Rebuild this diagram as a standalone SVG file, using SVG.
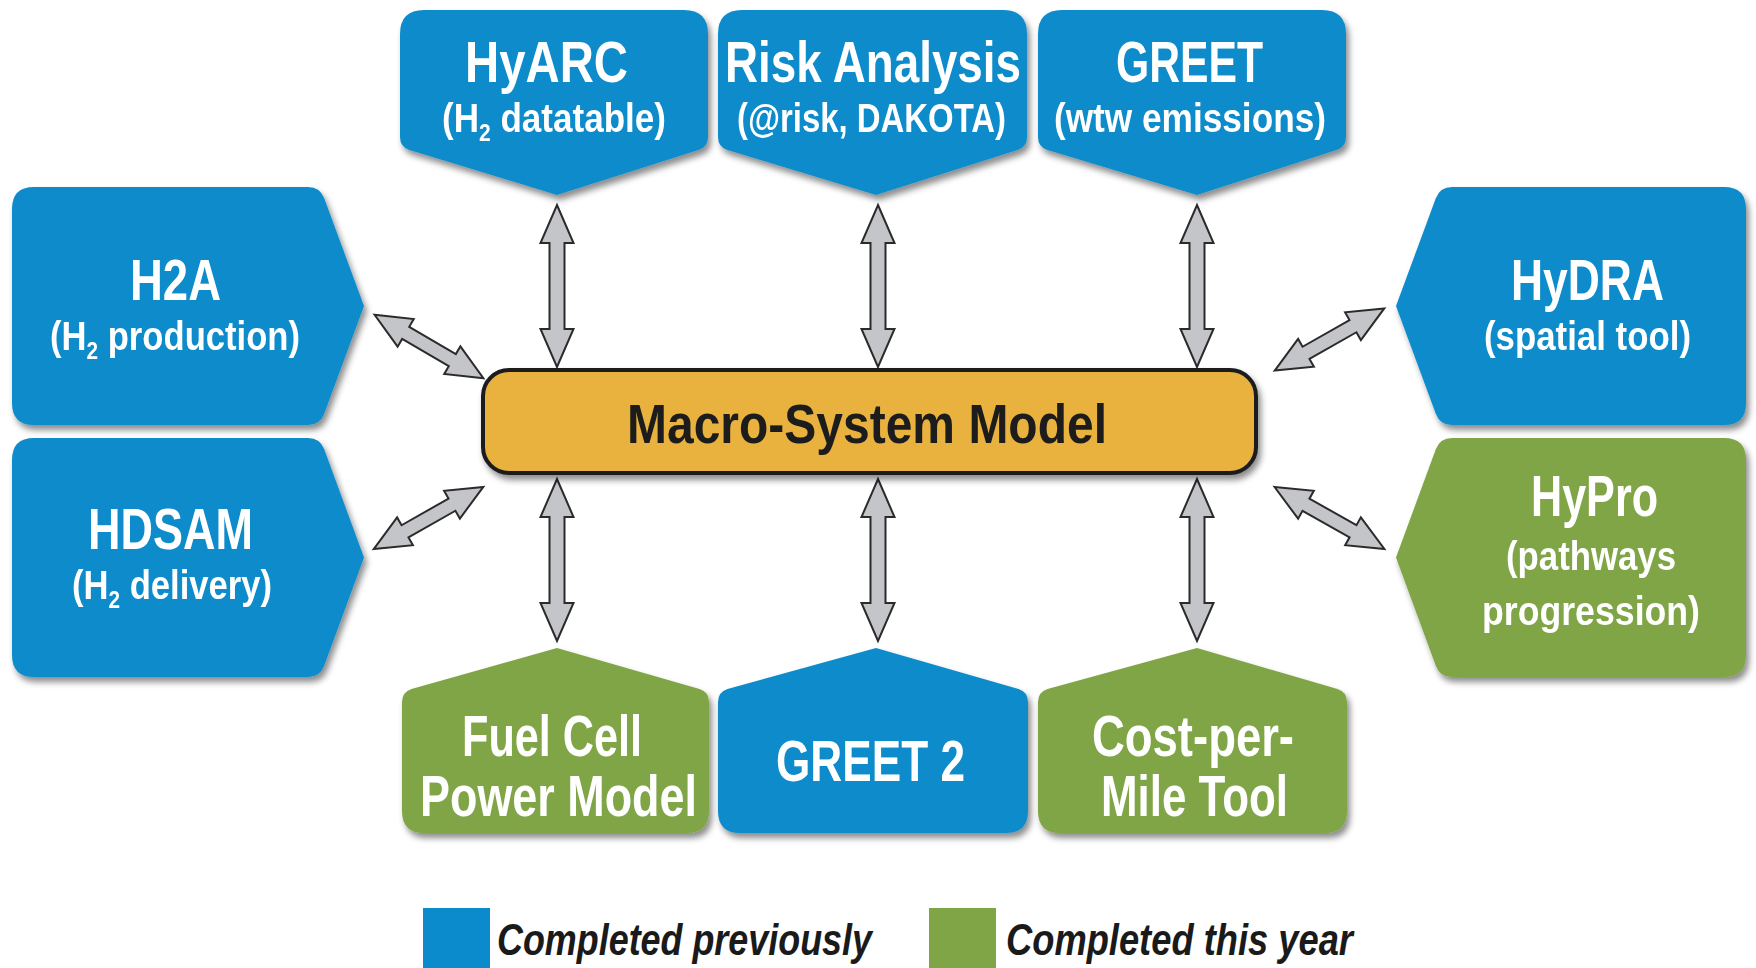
<svg xmlns="http://www.w3.org/2000/svg" xmlns:xlink="http://www.w3.org/1999/xlink" width="1756" height="968" viewBox="0 0 1756 968">
<style>
.blue{fill:#0b8bcb}
.green{fill:#80a546}
.node{filter:url(#sh)}
.t{font-family:"Liberation Sans",Arial,sans-serif;font-weight:700;fill:#ffffff}
.ti{font-size:57px}
.su{font-size:40px}
.sub{font-size:24px}
.macro{fill:#e9b13d;stroke:#1c1c1c;stroke-width:4}
.mt{font-family:"Liberation Sans",Arial,sans-serif;font-weight:700;font-size:56px;fill:#1c1c1c}
.arrow{fill:#c4c5c9;stroke:#2b2b2b;stroke-width:2;stroke-linejoin:miter}
.leg{font-family:"Liberation Sans",Arial,sans-serif;font-weight:700;font-style:italic;font-size:45px;fill:#1a1a1a}
</style>
<defs>
<filter id="sh" x="-10%" y="-10%" width="125%" height="130%">
<feDropShadow dx="3" dy="5" stdDeviation="3" flood-color="#000" flood-opacity="0.45"/>
</filter>
<path id="av" class="arrow" d="M0,-81 L16.5,-43 L7.5,-43 L7.5,43 L16.5,43 L0,81 L-16.5,43 L-7.5,43 L-7.5,-43 L-16.5,-43 Z"/>
<path id="ad" class="arrow" d="M-63,0 L-27,-16 L-27,-7 L27,-7 L27,-16 L63,0 L27,16 L27,7 L-27,7 L-27,16 Z"/>
</defs>
<rect width="1756" height="968" fill="#ffffff"/>

<g id="connectors">
<use xlink:href="#av" x="557" y="286"/>
<use xlink:href="#av" x="878" y="286"/>
<use xlink:href="#av" x="1197" y="286"/>
<use xlink:href="#av" x="557" y="560"/>
<use xlink:href="#av" x="878" y="560"/>
<use xlink:href="#av" x="1197" y="560"/>
<use xlink:href="#ad" transform="translate(429,346.5) rotate(30.3)"/>
<use xlink:href="#ad" transform="translate(428.5,518) rotate(-29.6)"/>
<use xlink:href="#ad" transform="translate(1329.5,339.5) rotate(-29.6)"/>
<use xlink:href="#ad" transform="translate(1329.5,518) rotate(29.4)"/>
</g>

<g id="macro">
<rect class="macro" x="483" y="370" width="773" height="103" rx="26" style="filter:url(#sh)"/>
<text class="mt" x="627" y="443" textLength="480" lengthAdjust="spacingAndGlyphs">Macro-System Model</text>
</g>

<g id="hyarc" class="node">
<path class="blue" d="M424,10 H684 Q708,10 708,34 V137 Q708,147 698.5,150 L557,195 L409.5,150 Q400,147 400,137 V34 Q400,10 424,10 Z"/>
<text class="t ti" x="465" y="82" textLength="163" lengthAdjust="spacingAndGlyphs">HyARC</text>
<text class="t su" x="442" y="132" textLength="224" lengthAdjust="spacingAndGlyphs">(H<tspan class="sub" dy="9">2</tspan><tspan dy="-9"> datatable)</tspan></text>
</g>

<g id="risk" class="node">
<path class="blue" d="M742,10 H1003 Q1027,10 1027,34 V137 Q1027,147 1017.5,150 L876,195 L727.5,150 Q718,147 718,137 V34 Q718,10 742,10 Z"/>
<text class="t ti" x="725" y="82" textLength="296" lengthAdjust="spacingAndGlyphs">Risk Analysis</text>
<text class="t su" x="737" y="132" textLength="269" lengthAdjust="spacingAndGlyphs">(@risk, DAKOTA)</text>
</g>

<g id="greet" class="node">
<path class="blue" d="M1062,10 H1322 Q1346,10 1346,34 V137 Q1346,147 1336.5,150 L1197,195 L1047.5,150 Q1038,147 1038,137 V34 Q1038,10 1062,10 Z"/>
<text class="t ti" x="1116" y="82" textLength="147" lengthAdjust="spacingAndGlyphs">GREET</text>
<text class="t su" x="1054" y="132" textLength="272" lengthAdjust="spacingAndGlyphs">(wtw emissions)</text>
</g>

<g id="h2a" class="node">
<path class="blue" d="M34,187 H308 Q320,187 324.2,198.3 L364,306 L324.2,413.7 Q320,425 308,425 H34 Q12,425 12,403 V209 Q12,187 34,187 Z"/>
<text class="t ti" x="130" y="300" textLength="91" lengthAdjust="spacingAndGlyphs">H2A</text>
<text class="t su" x="50" y="350" textLength="250" lengthAdjust="spacingAndGlyphs">(H<tspan class="sub" dy="9">2</tspan><tspan dy="-9"> production)</tspan></text>
</g>

<g id="hdsam" class="node">
<path class="blue" d="M34,438 H308 Q320,438 324.2,449.3 L364,557.5 L324.2,665.7 Q320,677 308,677 H34 Q12,677 12,655 V460 Q12,438 34,438 Z"/>
<text class="t ti" x="88" y="549" textLength="165" lengthAdjust="spacingAndGlyphs">HDSAM</text>
<text class="t su" x="72" y="599" textLength="200" lengthAdjust="spacingAndGlyphs">(H<tspan class="sub" dy="9">2</tspan><tspan dy="-9"> delivery)</tspan></text>
</g>

<g id="hydra" class="node">
<path class="blue" d="M1724,187 H1452 Q1440,187 1435.8,198.3 L1396,306 L1435.8,413.7 Q1440,425 1452,425 H1724 Q1746,425 1746,403 V209 Q1746,187 1724,187 Z"/>
<text class="t ti" x="1511" y="300" textLength="153" lengthAdjust="spacingAndGlyphs">HyDRA</text>
<text class="t su" x="1484" y="350" textLength="207" lengthAdjust="spacingAndGlyphs">(spatial tool)</text>
</g>

<g id="hypro" class="node">
<path class="green" d="M1724,438 H1452 Q1440,438 1435.8,449.3 L1396,557.5 L1435.8,665.7 Q1440,677 1452,677 H1724 Q1746,677 1746,655 V460 Q1746,438 1724,438 Z"/>
<text class="t ti" x="1531" y="516" textLength="127" lengthAdjust="spacingAndGlyphs">HyPro</text>
<text class="t su" x="1506" y="570" textLength="170" lengthAdjust="spacingAndGlyphs">(pathways</text>
<text class="t su" x="1482" y="625" textLength="218" lengthAdjust="spacingAndGlyphs">progression)</text>
</g>

<g id="fuelcell" class="node">
<path class="green" d="M557,648 L699.5,689 Q709,692 709,702 V811 Q709,833 687,833 H424 Q402,833 402,811 V702 Q402,692 411.5,689 Z"/>
<text class="t ti" x="462" y="756" textLength="180" lengthAdjust="spacingAndGlyphs">Fuel Cell</text>
<text class="t ti" x="420" y="816" textLength="277" lengthAdjust="spacingAndGlyphs">Power Model</text>
</g>

<g id="greet2" class="node">
<path class="blue" d="M876,648 L1018.5,689 Q1028,692 1028,702 V811 Q1028,833 1006,833 H740 Q718,833 718,811 V702 Q718,692 727.5,689 Z"/>
<text class="t ti" x="776" y="781" textLength="189" lengthAdjust="spacingAndGlyphs">GREET 2</text>
</g>

<g id="costpermile" class="node">
<path class="green" d="M1197,648 L1337.5,689 Q1347,692 1347,702 V811 Q1347,833 1325,833 H1060 Q1038,833 1038,811 V702 Q1038,692 1047.5,689 Z"/>
<text class="t ti" x="1092" y="756" textLength="202" lengthAdjust="spacingAndGlyphs">Cost-per-</text>
<text class="t ti" x="1101" y="816" textLength="187" lengthAdjust="spacingAndGlyphs">Mile Tool</text>
</g>

<g id="legend">
<rect class="blue" x="423" y="908" width="67" height="60"/>
<text class="leg" x="497" y="955" textLength="375" lengthAdjust="spacingAndGlyphs">Completed previously</text>
<rect class="green" x="929" y="908" width="67" height="60"/>
<text class="leg" x="1006" y="955" textLength="347" lengthAdjust="spacingAndGlyphs">Completed this year</text>
</g>
</svg>
